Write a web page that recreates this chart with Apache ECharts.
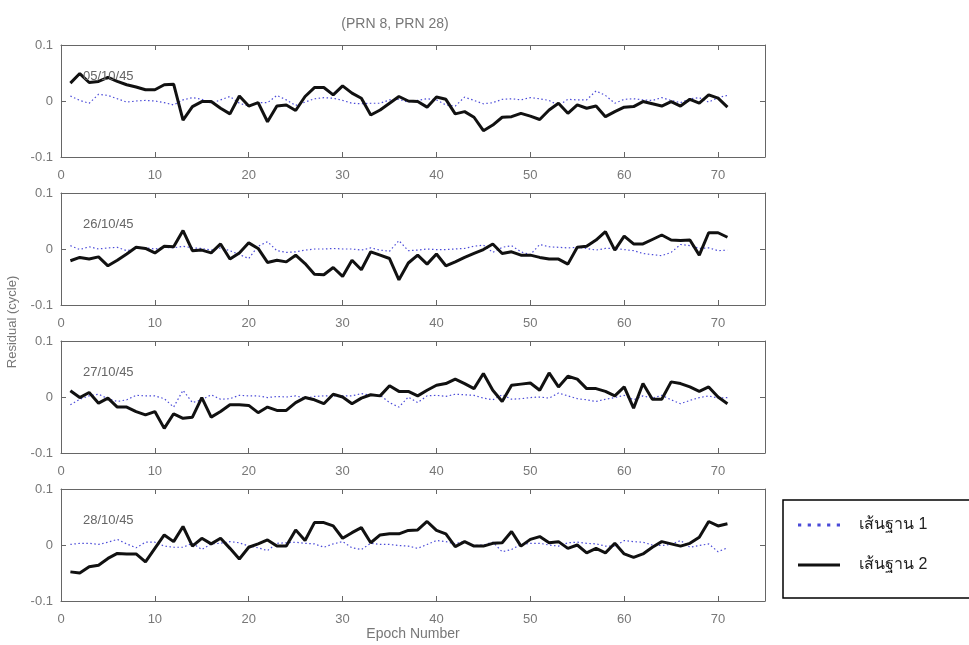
<!DOCTYPE html>
<html><head><meta charset="utf-8">
<script src="https://cdn.jsdelivr.net/npm/echarts@6/dist/echarts.min.js"></script>
<style>html,body{margin:0;padding:0;background:#fff}#c{width:969px;height:645px}</style>
</head><body><div id="c"></div>
<script>
const titleText = '(PRN 8, PRN 28)';
const yAxisTitle = 'Residual (cycle)';
const xAxisTitle = 'Epoch Number';
const seriesNames = ['เส้นฐาน 1', 'เส้นฐาน 2'];
const dayLabels = ['05/10/45', '26/10/45', '27/10/45', '28/10/45'];
const yTicks = [-0.1, 0, 0.1];

const p1Solid = [0.032,0.049,0.033,0.035,0.042,0.035,0.029,0.025,0.020,0.020,
 0.029,0.030,-0.034,-0.010,-0.001,-0.001,-0.013,-0.023,0.009,-0.009,
 -0.003,-0.037,-0.009,-0.007,-0.017,0.008,0.024,0.024,0.011,0.027,
 0.014,0.005,-0.025,-0.016,-0.004,0.008,0.000,-0.001,-0.011,0.007,
 0.003,-0.023,-0.019,-0.029,-0.053,-0.043,-0.029,-0.028,-0.022,-0.027,
 -0.033,-0.016,-0.004,-0.022,-0.007,-0.013,-0.009,-0.028,-0.019,-0.011,
 -0.010,-0.001,-0.005,-0.009,-0.001,-0.009,0.003,-0.004,0.011,0.005,
 -0.011];
const p1Dotted = [0.009,0.001,-0.004,0.012,0.010,0.004,-0.002,0.000,0.001,0.000,
 -0.003,-0.007,0.002,0.006,0.003,-0.004,0.002,0.008,-0.004,-0.009,
 -0.003,-0.003,0.010,0.002,-0.008,-0.002,0.004,0.006,0.005,0.001,
 -0.004,-0.005,-0.004,-0.004,0.002,0.003,-0.002,0.001,0.004,0.002,
 -0.007,-0.009,0.007,0.001,-0.005,-0.003,0.003,0.004,0.002,0.006,
 0.004,0.001,-0.008,0.003,0.002,0.002,0.018,0.010,-0.004,0.003,
 0.004,0.002,0.001,0.006,0.001,-0.003,0.004,0.006,-0.002,0.006,
 0.010];
const p2Solid = [-0.021,-0.015,-0.018,-0.014,-0.030,-0.020,-0.009,0.003,0.001,-0.007,
 0.005,0.004,0.033,-0.003,-0.002,-0.007,0.009,-0.018,-0.007,0.011,
 0.001,-0.024,-0.020,-0.023,-0.011,-0.026,-0.045,-0.046,-0.033,-0.049,
 -0.020,-0.037,-0.005,-0.011,-0.017,-0.055,-0.025,-0.011,-0.027,-0.009,
 -0.030,-0.023,-0.015,-0.008,-0.001,0.009,-0.008,-0.005,-0.011,-0.011,
 -0.015,-0.018,-0.018,-0.027,0.003,0.005,0.016,0.031,-0.002,0.023,
 0.009,0.009,0.017,0.025,0.016,0.015,0.016,-0.011,0.029,0.029,
 0.021];
const p2Dotted = [0.006,-0.001,0.004,0.000,0.002,0.003,-0.003,0.001,0.002,0.000,
 0.003,0.002,0.005,0.002,0.001,-0.002,0.002,-0.003,-0.010,-0.017,
 0.005,0.013,-0.003,-0.006,-0.005,-0.002,0.000,0.000,0.001,0.000,
 0.000,-0.002,0.002,-0.002,-0.004,0.015,-0.003,-0.002,0.000,-0.001,
 -0.001,0.000,0.001,0.005,0.007,-0.006,0.003,0.006,-0.005,-0.010,
 0.008,0.004,0.003,0.002,0.003,0.001,-0.002,0.001,0.001,-0.001,
 -0.003,-0.008,-0.010,-0.012,-0.006,0.008,0.006,0.001,0.002,-0.003,
 -0.002];
const p3Solid = [0.011,-0.001,0.008,-0.011,-0.002,-0.018,-0.018,-0.026,-0.032,-0.026,
 -0.056,-0.030,-0.038,-0.036,-0.001,-0.036,-0.026,-0.014,-0.014,-0.015,
 -0.028,-0.018,-0.024,-0.024,-0.010,-0.001,-0.005,-0.012,0.005,0.000,
 -0.012,-0.002,0.004,0.002,0.020,0.010,0.010,0.002,0.012,0.021,
 0.024,0.032,0.024,0.015,0.042,0.012,-0.008,0.021,0.023,0.025,
 0.012,0.043,0.018,0.037,0.032,0.015,0.015,0.010,0.002,0.018,
 -0.020,0.024,-0.004,-0.004,0.027,0.024,0.018,0.010,0.018,0.000,
 -0.012];
const p3Dotted = [-0.014,-0.004,0.002,0.005,-0.003,-0.008,-0.005,0.003,0.002,0.002,
 -0.003,-0.018,0.012,-0.010,-0.005,0.004,-0.004,-0.003,0.003,0.002,
 0.002,-0.001,0.001,0.000,0.002,-0.002,0.001,0.002,0.002,0.002,
 0.002,0.006,0.003,0.003,-0.010,-0.018,0.000,-0.010,0.002,0.003,
 0.001,0.005,0.004,0.003,-0.002,-0.005,0.004,-0.004,-0.003,-0.001,
 0.000,-0.002,0.007,0.002,-0.003,-0.005,-0.008,-0.004,-0.001,0.003,
 -0.005,0.002,-0.002,0.003,-0.005,-0.012,-0.006,-0.001,0.002,-0.002,
 -0.001];
const p4Solid = [-0.048,-0.050,-0.039,-0.036,-0.024,-0.015,-0.016,-0.016,-0.030,-0.006,
 0.018,0.006,0.033,-0.002,0.012,0.002,0.012,-0.006,-0.025,-0.004,
 0.002,0.009,-0.002,-0.002,0.027,0.008,0.040,0.040,0.034,0.012,
 0.022,0.031,0.004,0.018,0.020,0.020,0.026,0.027,0.042,0.026,
 0.020,-0.003,0.006,-0.002,-0.002,0.003,0.004,0.024,-0.002,0.010,
 0.015,0.004,0.006,-0.006,0.000,-0.014,-0.006,-0.014,0.003,-0.016,
 -0.022,-0.016,-0.004,0.006,0.002,-0.002,0.003,0.014,0.042,0.034,
 0.038];
const p4Dotted = [0.001,0.003,0.003,0.001,0.005,0.010,0.002,-0.005,0.005,0.005,
 -0.002,-0.004,-0.004,0.003,-0.008,0.002,0.003,0.006,0.004,-0.002,
 -0.005,-0.010,0.003,0.004,0.005,0.003,0.002,-0.004,0.002,0.006,
 -0.005,-0.008,0.003,0.001,0.001,-0.001,-0.002,-0.006,0.001,0.008,
 0.006,0.002,0.007,-0.001,0.000,0.005,-0.012,-0.008,0.001,0.003,
 0.003,0.000,-0.002,0.004,0.005,0.003,0.002,-0.002,-0.002,0.008,
 0.006,0.005,0.000,-0.001,0.001,0.008,-0.004,-0.001,0.002,-0.012,
 -0.005];

const solids = [p1Solid, p2Solid, p3Solid, p4Solid];
const dotteds = [p1Dotted, p2Dotted, p3Dotted, p4Dotted];

const gridTops = [45, 193, 341, 489];
const gridH = 112;
const axisCol = '#666';
const labCol = '#777';
const dotCol = '#4a4ad8';
const font = 'Liberation Sans, Arial, sans-serif';

const grids = [], xAxes = [], yAxes = [], series = [], titles = [];
titles.push({text: titleText, left: 390, top: 12, textAlign: 'center',
  textStyle: {fontSize: 14, fontWeight: 'normal', color: '#777', fontFamily: font}});
gridTops.forEach((t, i) => {
  grids.push({left: 61, width: 704, top: t, height: gridH, show: false});
  const isLast = i === 3;
  xAxes.push({gridIndex: i, type: 'value', min: 0, max: 75, interval: 10, position: 'bottom',
    name: isLast ? xAxisTitle : '', nameLocation: 'middle', nameGap: 25,
    nameTextStyle: {fontSize: 14, color: '#777', fontFamily: font},
    axisLine: {show: true, onZero: false, lineStyle: {color: axisCol, width: 1}},
    axisTick: {show: true, inside: true, length: 5, lineStyle: {color: axisCol}},
    axisLabel: {showMaxLabel: false, color: labCol, fontSize: 13, margin: 12, fontFamily: font},
    splitLine: {show: false}});
  xAxes.push({gridIndex: i, type: 'value', min: 0, max: 75, interval: 10, position: 'top',
    axisLine: {show: true, onZero: false, lineStyle: {color: axisCol, width: 1}},
    axisTick: {show: true, inside: true, length: 5, lineStyle: {color: axisCol}},
    axisLabel: {show: false}, splitLine: {show: false}});
  yAxes.push({gridIndex: i, type: 'value', min: yTicks[0], max: yTicks[2], interval: 0.1, position: 'left',
    axisLine: {show: true, onZero: false, lineStyle: {color: axisCol, width: 1}},
    axisTick: {show: true, inside: true, length: 5, lineStyle: {color: axisCol}},
    axisLabel: {color: labCol, fontSize: 13, margin: 8, fontFamily: font,
      formatter: v => (Math.abs(v) < 1e-9 ? '0' : String(Math.round(v * 10) / 10))},
    splitLine: {show: false}});
  yAxes.push({gridIndex: i, type: 'value', min: yTicks[0], max: yTicks[2], interval: 0.1, position: 'right',
    axisLine: {show: true, onZero: false, lineStyle: {color: axisCol, width: 1}},
    axisTick: {show: true, inside: true, length: 5, lineStyle: {color: axisCol}},
    axisLabel: {show: false}, splitLine: {show: false}});
  series.push({name: seriesNames[0], type: 'line', xAxisIndex: 2 * i, yAxisIndex: 2 * i,
    data: dotteds[i].map((v, k) => [k + 1, v]), symbol: 'none', silent: true,
    lineStyle: {color: dotCol, width: 1.2, type: [1.5, 2.5]}, itemStyle: {color: dotCol}, z: 2});
  series.push({name: seriesNames[1], type: 'line', xAxisIndex: 2 * i, yAxisIndex: 2 * i,
    data: solids[i].map((v, k) => [k + 1, v]), symbol: 'none', silent: true,
    lineStyle: {color: '#111', width: 3}, itemStyle: {color: '#111'}, z: 3});
  titles.push({text: dayLabels[i], left: 78, top: t + 20,
    textStyle: {fontSize: 13, fontWeight: 'normal', color: '#666', fontFamily: font}});
});

const dotIcon = 'path://M0,0h3v3h-3zM9,0h3v3h-3zM18,0h3v3h-3zM27,0h3v3h-3zM36,0h3v3h-3z';
const barIcon = 'path://M0,0h39v3h-39z';

const chart = echarts.init(document.getElementById('c'), null, {renderer: 'canvas'});
chart.setOption({
  animation: false,
  backgroundColor: '#fff',
  title: titles,
  grid: grids, xAxis: xAxes, yAxis: yAxes, series: series,
  legend: {show: true, orient: 'vertical', left: 783, top: 500,
    data: [{name: seriesNames[0], icon: dotIcon}, {name: seriesNames[1], icon: barIcon}],
    itemWidth: 42, itemHeight: 4, itemGap: 24,
    padding: [17, 60, 25, 15], borderColor: '#000', borderWidth: 1.5, backgroundColor: '#fff',
    textStyle: {fontSize: 16, color: '#222', padding: [0, 0, 0, 14]}, selectedMode: false},
  graphic: [{type: 'text', x: 12, y: 322, rotation: Math.PI / 2,
    style: {text: yAxisTitle, fill: '#777', fontSize: 13, fontFamily: font, align: 'center', verticalAlign: 'middle'},
    originX: 0, originY: 0}]
});
</script></body></html>
